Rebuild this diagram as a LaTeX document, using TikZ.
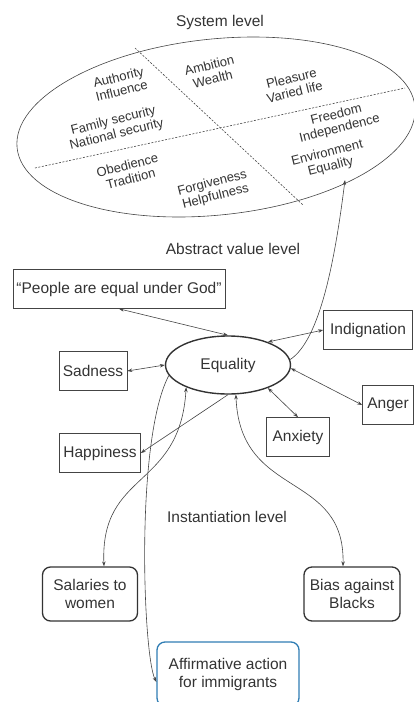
\documentclass[tikz,border=0pt]{standalone}
\usepackage{fontspec}
\setmainfont{Liberation Sans}
\usetikzlibrary{arrows.meta, shapes.geometric}
\definecolor{vlink}{HTML}{444444}
\definecolor{vtext}{HTML}{333333}
\definecolor{vblue}{HTML}{2F7DB3}

\begin{document}
\begin{tikzpicture}[x=1pt, y=-1pt, >={Stealth[length=5pt,width=3.5pt]},
    every node/.style={font=\fontsize{15.5}{18}\selectfont, text=vtext},
    valbox/.style={rectangle, draw=vlink, semithick, minimum height=39pt, inner sep=2pt},
    instbox/.style={rectangle, draw=vtext, line width=1.3pt, rounded corners=8pt, minimum height=54pt, align=center},
    sysval/.style={font=\fontsize{13}{14}\selectfont, rotate=14, align=center, inner sep=1pt},
    link/.style={vlink, semithick}]
    \useasboundingbox (0,0) rectangle (414,702);

    % System level
    \node (syslbl) at (220,22) {System level};
    \draw[vlink, semithick, rotate around={6:(216,127)}] (216,127) ellipse [x radius=200, y radius=88];
    \draw[vlink, semithick, dash pattern=on 2pt off 1.5pt] (135,48) -- (303,205);
    \draw[vlink, semithick, dash pattern=on 2pt off 1.5pt] (35,168) -- (405,88);

    \node[sysval] (authinf) at (120,84) {Authority\\Influence};
    \node[sysval] (ambwlth) at (211,72) {Ambition\\Wealth};
    \node[sysval] (plsvar) at (293,85) {Pleasure\\Varied life};
    \node[sysval] (famnat) at (115,128) {Family security\\National security};
    \node[sysval] (freeind) at (338,122) {Freedom\\Independence};
    \node[sysval] (enveq) at (329,160) {Environment\\Equality};
    \node[sysval] (obtrad) at (129,172) {Obedience\\Tradition};
    \node[sysval] (forhelp) at (214,190) {Forgiveness\\Helpfulness};
    \coordinate (envtip) at (345,180);

    % Abstract value level
    \node (abslbl) at (233,249) {Abstract value level};
    \node[ellipse, draw=vtext, line width=1.4pt, minimum width=125pt, minimum height=58pt, inner sep=0pt] (eq) at (228,365) {Equality};

    \node[valbox, minimum width=212pt] (ppl) at (119,289) {“People are equal under God”};
    \node[valbox, minimum width=89pt] (ind) at (368,330) {Indignation};
    \node[valbox, minimum width=68pt] (sad) at (93,371) {Sadness};
    \node[valbox, minimum width=51pt] (ang) at (388,405) {Anger};
    \node[valbox, minimum width=63pt] (anx) at (298,437) {Anxiety};
    \node[valbox, minimum width=81pt] (hap) at (100,453) {Happiness};

    % Instantiation level
    \node (instlbl) at (227,517) {Instantiation level};
    \node[instbox, minimum width=95pt] (sal) at (90,594) {Salaries to\\women};
    \node[instbox, minimum width=96pt] (bias) at (352,594) {Bias against\\Blacks};
    \node[instbox, draw=vblue, minimum width=142pt, minimum height=64pt] (aff) at (228,674) {Affirmative action\\for immigrants};

    % Links
    \draw[link, <->] (ppl.south) -- (eq.north);
    \draw[link, <->] (ind.west) -- (eq.30);
    \draw[link, <->] (sad.east) -- (eq.west);
    \draw[link, <->] (eq.-3) -- (ang.west);
    \draw[link, <->] (eq.-30) -- (anx.north);
    \draw[link, ->] (eq.south) -- (hap.east);
    \draw[link, ->] (eq.5) .. controls (320,340) and (335,260) .. (envtip);
    \draw[link, ->] (eq.190) .. controls (135,440) and (143,655) .. ([yshift=-8pt]aff.west);
    \draw[link, <->] (eq.208) .. controls (180,490) and (100,470) .. ([xshift=14pt]sal.north);
    \draw[link, <->] (eq.-75) .. controls (240,500) and (345,470) .. ([xshift=-9pt]bias.north);
\end{tikzpicture}
\end{document}
